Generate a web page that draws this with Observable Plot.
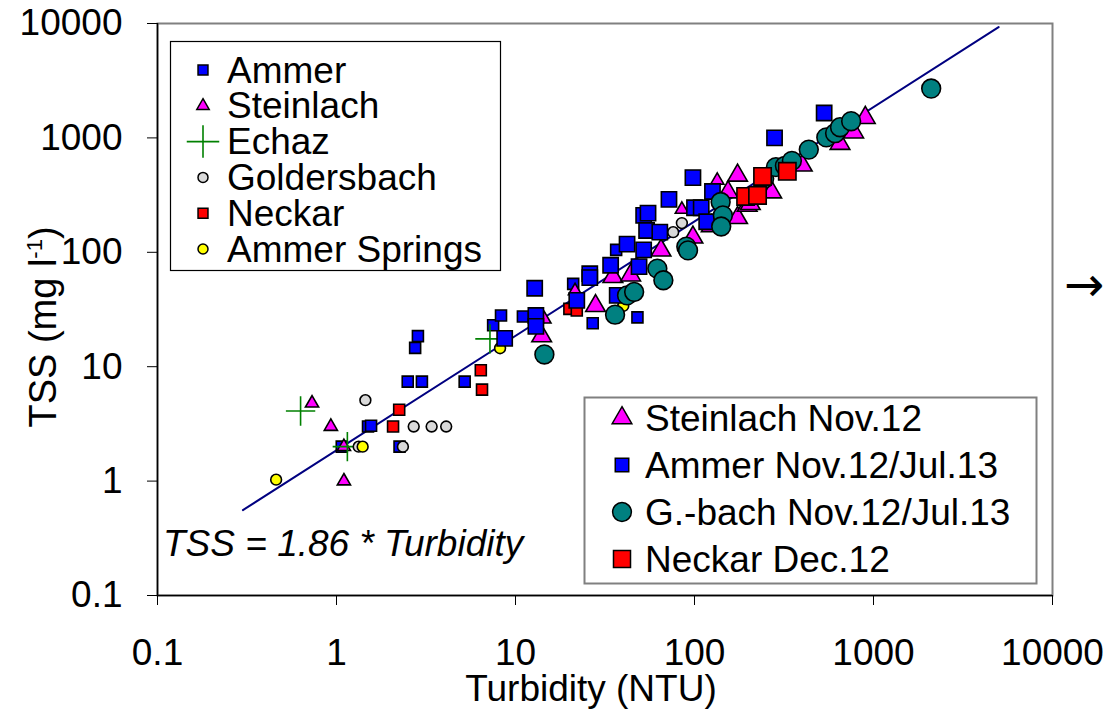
<!DOCTYPE html>
<html><head><meta charset="utf-8">
<script src="https://cdn.jsdelivr.net/npm/d3@7"></script>
<script src="https://cdn.jsdelivr.net/npm/@observablehq/plot@0.6"></script>
<style>html,body{margin:0;padding:0;background:#fff}svg{display:block}</style>
</head><body><div id="chart"></div>
<script>
// ---- Data (Turbidity in NTU, TSS in mg/l) ----
const ammerTurb = [1.07, 1.5, 1.56, 2.25, 2.5, 3.0, 2.85, 2.75, 5.2, 7.5, 8.3, 11, 21, 27, 36.5, 48];
const ammerTSS  = [2.0, 3.0, 3.05, 2.0, 7.4, 7.4, 18.5, 14.6, 7.4, 23, 28, 27.5, 53, 24, 105, 27];

const steinTurb = [0.73, 0.93, 1.1, 1.1, 14.5, 21.5, 85, 134];
const steinTSS  = [4.8, 3.0, 2.0, 1.0, 26, 46, 237, 425];

const echazTurb = [0.63, 1.15, 7.2];
const echazTSS  = [4.1, 2.0, 17.5];

const goldTurb = [1.33, 1.45, 2.35, 2.7, 3.4, 4.1, 76, 85];
const goldTSS  = [2.0, 5.1, 2.0, 3.0, 3.0, 3.0, 150, 180];

const neckarTurb = [2.07, 2.24, 6.4, 6.5, 20, 22];
const neckarTSS  = [3.0, 4.2, 9.3, 6.3, 32, 31];

const springsTurb = [0.46, 1.4, 8.2, 40];
const springsTSS  = [1.03, 2.0, 14.5, 34];

const steinNovTurb = [14, 28, 35, 44, 65, 98, 124, 154, 174, 174, 197, 205, 270, 400, 650, 775, 900];
const steinNovTSS  = [18.5, 34, 61, 63, 104, 135, 170, 335, 470, 200, 256, 265, 335, 575, 890, 1120, 1500];

const ammerNovTurb = [8.7, 13, 13, 12.8, 22, 26, 26, 34, 37, 42, 49, 52, 52, 55, 54, 64, 72, 98, 100, 109, 117, 126, 280, 530];
const ammerNovTSS  = [17.7, 28, 22.5, 48.5, 38, 65, 60, 77, 42, 118, 75, 105, 210, 220, 155, 150, 290, 450, 245, 245, 185, 340, 1000, 1650];

const gbachNovTurb = [14.5, 36, 42, 46, 62, 67, 90, 92, 140, 144, 141, 245, 285, 320, 350, 435, 545, 610, 650, 750, 2100];
const gbachNovTSS  = [12.8, 28.5, 42, 45, 72, 57, 112, 104, 275, 210, 168, 440, 555, 570, 630, 790, 1010, 1100, 1240, 1400, 2700];

const neckarDecTurb = [193, 225, 240, 330];
const neckarDecTSS  = [308, 314, 460, 510];

const regSlope = 1.86;             // TSS = 1.86 * Turbidity
const regTurbRange = [0.3, 5000];  // extent of the fitted line

const xTicks = [0.1, 1, 10, 100, 1000, 10000];
const xTickLabels = ["0.1", "1", "10", "100", "1000", "10000"];
const yTicks = [0.1, 1, 10, 100, 1000, 10000];
const yTickLabels = ["0.1", "1", "10", "100", "1000", "10000"];

const legend1Names = ["Ammer", "Steinlach", "Echaz", "Goldersbach", "Neckar", "Ammer Springs"];
const legend2Names = ["Steinlach Nov.12", "Ammer Nov.12/Jul.13", "G.-bach Nov.12/Jul.13", "Neckar Dec.12"];

// ---- Styles ----
const FONT = "'Liberation Sans', Arial, Helvetica, sans-serif";
const styles = {
  "Ammer":               {symbol: "square",   fill: "#0000ff", r: 6.2},
  "Steinlach":           {symbol: "triangle", fill: "#ff00ff", r: 4.9},
  "Echaz":               {symbol: "plus",     stroke: "#008000", r: 9.5},
  "Goldersbach":         {symbol: "circle",   fill: "#d9d9d9", r: 5.4},
  "Neckar":              {symbol: "square",   fill: "#ff0000", r: 6.2},
  "Ammer Springs":       {symbol: "circle",   fill: "#ffff00", r: 5.4},
  "Steinlach Nov.12":    {symbol: "triangle", fill: "#ff00ff", r: 7.3},
  "Ammer Nov.12/Jul.13": {symbol: "square",   fill: "#0000ff", r: 8.6},
  "G.-bach Nov.12/Jul.13": {symbol: "circle", fill: "#008080", r: 9.4},
  "Neckar Dec.12":       {symbol: "square",   fill: "#ff0000", r: 9.8}
};

const series = [
  ["Ammer", ammerTurb, ammerTSS],
  ["Steinlach", steinTurb, steinTSS],
  ["Echaz", echazTurb, echazTSS],
  ["Goldersbach", goldTurb, goldTSS],
  ["Neckar", neckarTurb, neckarTSS],
  ["Ammer Springs", springsTurb, springsTSS],
  ["Steinlach Nov.12", steinNovTurb, steinNovTSS],
  ["Ammer Nov.12/Jul.13", ammerNovTurb, ammerNovTSS],
  ["G.-bach Nov.12/Jul.13", gbachNovTurb, gbachNovTSS],
  ["Neckar Dec.12", neckarDecTurb, neckarDecTSS]
];

const regLine = regTurbRange.map(t => ({t, tss: regSlope * t}));
const xLab = new Map(xTicks.map((d, i) => [d, xTickLabels[i]]));
const yLab = new Map(yTicks.map((d, i) => [d, yTickLabels[i]]));

function dotMark(name, xs, ys) {
  const s = styles[name];
  const data = xs.map((x, i) => ({x, y: ys[i]}));
  if (s.symbol === "plus") {
    return Plot.dot(data, {x: "x", y: "y", symbol: "plus", r: s.r, stroke: s.stroke, strokeWidth: 1.6, fill: "none"});
  }
  return Plot.dot(data, {x: "x", y: "y", symbol: s.symbol, r: s.r, fill: s.fill, stroke: "#000", strokeWidth: 1.6});
}

const plot = Plot.plot({
  width: 1109, height: 710,
  marginLeft: 157, marginRight: 57, marginTop: 23, marginBottom: 115,
  x: {type: "log", domain: [0.1, 10000]},
  y: {type: "log", domain: [0.1, 10000]},
  style: {fontFamily: FONT, fontSize: "37px", background: "#fff", color: "#000", overflow: "visible"},
  marks: [
    Plot.frame({stroke: "#808080", strokeWidth: 2}),
    Plot.line(regLine, {x: "t", y: "tss", stroke: "#000080", strokeWidth: 2}),
    ...series.map(([n, xs, ys]) => dotMark(n, xs, ys)),
    Plot.ruleX([0.1], {stroke: "#000", strokeWidth: 1.5}),
    Plot.ruleY([0.1], {stroke: "#000", strokeWidth: 1.5}),
    Plot.axisX({ticks: xTicks, tickFormat: d => xLab.get(d), tickSize: 10, tickPadding: 33, fontSize: 37, label: null, stroke: "#000"}),
    Plot.axisY({ticks: yTicks, tickFormat: d => yLab.get(d), tickSize: 10, tickPadding: 25, fontSize: 37, label: null, stroke: "#000"})
  ]
});

document.getElementById("chart").appendChild(plot);

// ---- Annotations, legends ----
const svg = d3.select(plot);
const symMap = {square: d3.symbolSquare, triangle: d3.symbolTriangle, circle: d3.symbolCircle, plus: d3.symbolPlus};

// Regression equation
svg.append("text").attr("x", 163).attr("y", 556).attr("text-anchor", "start")
  .attr("font-family", FONT).attr("font-size", 37).attr("font-style", "italic")
  .text("TSS = 1.86 * Turbidity");

// Axis titles
svg.append("text").attr("x", 591).attr("y", 701).attr("text-anchor", "middle")
  .attr("font-family", FONT).attr("font-size", 37).text("Turbidity (NTU)");
const yt = svg.append("text").attr("transform", "translate(56,327) rotate(-90)")
  .attr("text-anchor", "middle").attr("font-family", FONT).attr("font-size", 38);
yt.append("tspan").text("TSS (mg l");
yt.append("tspan").attr("font-size", 22).attr("dy", -14).text("-1");
yt.append("tspan").attr("dy", 14).text(")");

// Arrow on the right
svg.append("text").attr("x", 1064).attr("y", 301).attr("text-anchor", "start")
  .attr("font-family", "'DejaVu Sans', sans-serif").attr("font-size", 48).text("\u2192");

// Legend 1 (small markers)
const g1 = svg.append("g");
g1.append("rect").attr("x", 170.5).attr("y", 41.5).attr("width", 330).attr("height", 229)
  .attr("fill", "#fff").attr("stroke", "#000").attr("stroke-width", 1.2);
const l1Sizes = {"Ammer": 5.6, "Steinlach": 4.6, "Echaz": 10.5, "Goldersbach": 5, "Neckar": 5.6, "Ammer Springs": 5};
legend1Names.forEach((n, i) => {
  const cy = 70 + i * 35.8;
  const s = styles[n];
  const r = l1Sizes[n];
  const p = g1.append("path").attr("d", d3.symbol(symMap[s.symbol], Math.PI * r * r)()).attr("transform", `translate(203,${cy})`);
  if (s.symbol === "plus") p.attr("fill", "none").attr("stroke", s.stroke).attr("stroke-width", 1.6);
  else p.attr("fill", s.fill).attr("stroke", "#000").attr("stroke-width", 1.5);
  g1.append("text").attr("x", 227).attr("y", cy + 12.5).attr("text-anchor", "start")
    .attr("font-family", FONT).attr("font-size", 37).text(n);
});

// Legend 2 (large markers)
const g2 = svg.append("g");
g2.append("rect").attr("x", 584.5).attr("y", 397.5).attr("width", 452).attr("height", 186)
  .attr("fill", "#fff").attr("stroke", "#808080").attr("stroke-width", 2);
const l2Sizes = {"Steinlach Nov.12": 7.3, "Ammer Nov.12/Jul.13": 7.6, "G.-bach Nov.12/Jul.13": 9.4, "Neckar Dec.12": 9.6};
legend2Names.forEach((n, i) => {
  const cy = 418 + i * 47;
  const s = styles[n];
  const r = l2Sizes[n];
  g2.append("path").attr("d", d3.symbol(symMap[s.symbol], Math.PI * r * r)()).attr("transform", `translate(622,${cy})`)
    .attr("fill", s.fill).attr("stroke", "#000").attr("stroke-width", 1.5);
  g2.append("text").attr("x", 645).attr("y", cy + 12.5).attr("text-anchor", "start")
    .attr("font-family", FONT).attr("font-size", 37).text(n);
});
</script>
</body></html>
